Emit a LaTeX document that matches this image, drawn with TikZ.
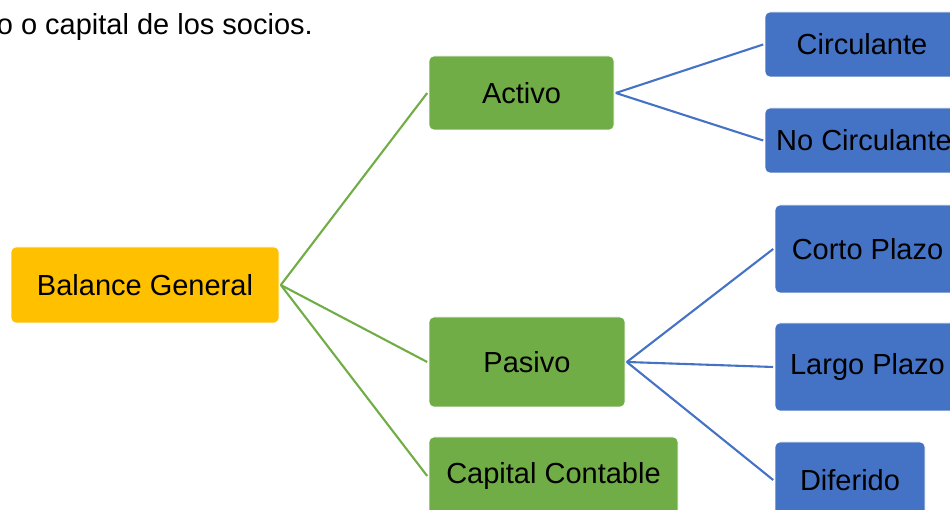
\documentclass[tikz,border=0pt]{standalone}
\usepackage{fontspec}
\setmainfont{Liberation Sans}
\definecolor{gold}{HTML}{FFC000}
\definecolor{leaf}{HTML}{70AD47}
\definecolor{ocean}{HTML}{4472C4}
\begin{document}
\begin{tikzpicture}[x=1pt,y=1pt,
  box/.style={rectangle, rounded corners=5pt, draw=white, line width=0.6pt,
    inner sep=0pt, align=center, text=black,
    font=\fontsize{29}{34}\selectfont},
  rootbox/.style={box, fill=gold},
  midbox/.style={box, fill=leaf},
  leafbox/.style={box, fill=ocean},
  glink/.style={draw=leaf, line width=2.1pt},
  blink/.style={draw=ocean, line width=2.1pt}]
\useasboundingbox (0,0) rectangle (950,510);

% heading fragment
\node[anchor=base east, inner sep=0pt, font=\fontsize{29}{34}\selectfont]
  (head) at (313,475) {o o capital de los socios.};

% root
\node[rootbox, minimum width=268pt, minimum height=76pt] (bal) at (145,225) {Balance General};

% second level
\node[midbox, minimum width=185pt, minimum height=74pt] (act) at (521.5,417) {Activo};
\node[midbox, minimum width=196pt, minimum height=90pt] (pas) at (527,148) {Pasivo};
\node[midbox, minimum width=249pt, minimum height=78pt] (cap) at (553.5,34) {Capital Contable};

% third level
\node[leafbox, minimum width=194pt, minimum height=65pt] (cir) at (862,465.5) {Circulante};
\node[leafbox, minimum width=198pt, minimum height=65pt] (ncir) at (864,369.5) {No Circulante};
\node[leafbox, minimum width=185pt, minimum height=88pt] (cor) at (867.5,261) {Corto Plazo};
\node[leafbox, minimum width=185pt, minimum height=88pt] (lar) at (867.5,143) {Largo Plazo};
\node[leafbox, minimum width=150pt, minimum height=76pt] (dif) at (850,30) {Diferido};

% connectors
\draw[glink] ([xshift=1.5pt]bal.east) -- ([xshift=-1.5pt]act.west);
\draw[glink] ([xshift=1.5pt]bal.east) -- ([xshift=-1.5pt]pas.west);
\draw[glink] ([xshift=1.5pt]bal.east) -- ([xshift=-1.5pt]cap.west);
\draw[blink] ([xshift=1.5pt]act.east) -- ([xshift=-1.5pt]cir.west);
\draw[blink] ([xshift=1.5pt]act.east) -- ([xshift=-1.5pt]ncir.west);
\draw[blink] ([xshift=1.5pt]pas.east) -- ([xshift=-1.5pt]cor.west);
\draw[blink] ([xshift=1.5pt]pas.east) -- ([xshift=-1.5pt]lar.west);
\draw[blink] ([xshift=1.5pt]pas.east) -- ([xshift=-1.5pt]dif.west);
\end{tikzpicture}
\end{document}
